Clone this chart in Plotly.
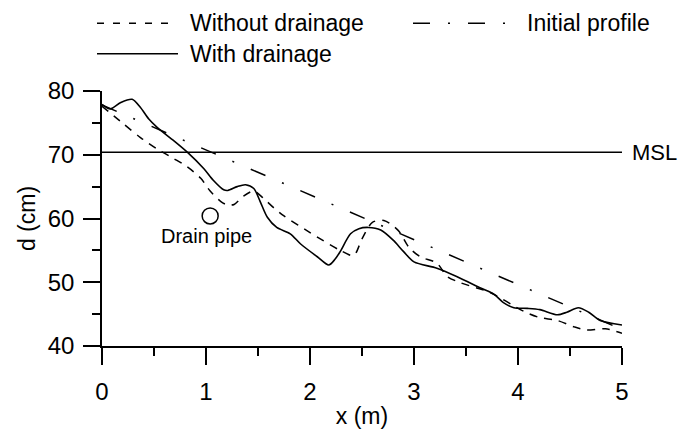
import plotly.graph_objects as go

# ---- data ----
with_x = [0.0, 0.08, 0.18, 0.29, 0.37, 0.45, 0.53, 0.69, 0.82, 0.98, 1.07, 1.17, 1.21,
          1.30, 1.38, 1.46, 1.52, 1.59, 1.68, 1.81, 1.91, 2.07, 2.18, 2.24, 2.29, 2.39,
          2.47, 2.56, 2.68, 2.80, 2.90, 3.00, 3.22, 3.41, 3.64, 3.77, 3.86, 3.96, 4.09,
          4.21, 4.38, 4.47, 4.58, 4.68, 4.79, 5.00]
with_d = [77.9, 77.2, 78.2, 78.7, 77.4, 75.6, 74.3, 72.2, 70.4, 67.8, 66.0, 64.5, 64.4,
          65.0, 65.3, 64.7, 62.7, 60.2, 58.6, 57.6, 56.0, 54.0, 52.7, 53.6, 54.8, 57.6,
          58.4, 58.6, 58.2, 56.6, 54.8, 53.2, 52.2, 50.9, 49.1, 48.1, 46.8, 46.0, 45.9,
          45.7, 44.9, 45.3, 46.0, 45.3, 44.0, 43.3]

without_x = [0.0, 0.21, 0.37, 0.53, 0.69, 0.82, 0.95, 1.04, 1.14, 1.21, 1.27, 1.36, 1.46,
             1.55, 1.65, 1.75, 2.00, 2.29, 2.42, 2.50, 2.60, 2.71, 2.85, 2.95, 3.06, 3.22,
             3.32, 3.45, 3.73, 4.06, 4.20, 4.38, 4.54, 4.66, 4.84, 5.00]
without_d = [77.6, 74.8, 72.7, 70.9, 69.4, 68.1, 66.3, 64.3, 62.7, 62.1, 62.2, 63.5, 64.3,
             63.2, 61.7, 60.4, 57.8, 55.0, 54.2, 56.8, 59.4, 59.7, 58.1, 55.5, 54.0, 53.0,
             50.9, 49.9, 48.4, 45.4, 44.5, 44.0, 43.0, 42.5, 42.7, 42.0]

initial_x = [0.0, 5.0]
initial_d = [77.8, 42.6]

msl_x = [0.0, 5.0]
msl_d = [70.4, 70.4]

pipe_x = [1.04]
pipe_d = [60.4]

x_ticks = [0, 1, 2, 3, 4, 5]
y_ticks = [40, 50, 60, 70, 80]

FONT = "Liberation Sans, Arial, sans-serif"
FS = 23

fig = go.Figure()
fig.add_trace(go.Scatter(x=initial_x, y=initial_d, mode="lines",
                         line=dict(color="black", width=1.5, dash="16px,18px,2px,18px"),
                         name="Initial profile", showlegend=False))
fig.add_trace(go.Scatter(x=msl_x, y=msl_d, mode="lines",
                         line=dict(color="black", width=1.5), name="MSL", showlegend=False))
fig.add_trace(go.Scatter(x=without_x, y=without_d, mode="lines",
                         line=dict(color="black", width=1.5, dash="8px,7px", shape="spline", smoothing=0.8),
                         name="Without drainage", showlegend=False))
fig.add_trace(go.Scatter(x=with_x, y=with_d, mode="lines",
                         line=dict(color="black", width=1.6, shape="spline", smoothing=0.8),
                         name="With drainage", showlegend=False))
fig.add_trace(go.Scatter(x=pipe_x, y=pipe_d, mode="markers",
                         marker=dict(symbol="circle-open", size=16, color="black",
                                     line=dict(width=1.5, color="black")),
                         name="Drain pipe", showlegend=False))

# ---- manual legend (paper coords) ----
def px2paper_x(px):
    return (px - 102) / 520.0

def px2paper_y(py):
    return (351 - py) / 260.0

legend_items = [
    ("Without drainage", 97, 175, 22, 188, "7px,9px"),
    ("With drainage", 97, 178, 53, 188, "solid"),
    ("Initial profile", 413, 505, 22, 525, "17px,18px,2px,18px"),
]
for label, x0, x1, yy, tx, dash in legend_items:
    fig.add_shape(type="line", xref="paper", yref="paper",
                  x0=px2paper_x(x0), x1=px2paper_x(x1), y0=px2paper_y(yy), y1=px2paper_y(yy),
                  line=dict(color="black", width=1.5, dash=dash))
    fig.add_annotation(xref="paper", yref="paper", x=px2paper_x(tx), y=px2paper_y(yy),
                       text=label, showarrow=False, xanchor="left", yanchor="middle",
                       font=dict(family=FONT, size=FS, color="black"))

fig.add_annotation(x=1.0, y=5.0, xref="paper", yref="y", text="MSL", showarrow=False,
                   xanchor="left", yanchor="middle", xshift=8,
                   font=dict(family=FONT, size=FS - 1, color="black"))
fig.add_annotation(x=1.0, y=57.2, xref="x", yref="y", text="Drain pipe", showarrow=False,
                   xanchor="center", yanchor="middle",
                   font=dict(family=FONT, size=20, color="black"))
fig.layout.annotations[-2].update(y=msl_d[0])

fig.update_layout(
    width=683, height=437, autosize=False,
    margin=dict(l=102, r=61, t=91, b=86, pad=0),
    paper_bgcolor="white", plot_bgcolor="white",
    font=dict(family=FONT, size=FS, color="black"),
    showlegend=False,
)
fig.update_xaxes(range=[0, 5], tickvals=x_ticks, showline=True, linecolor="black", linewidth=1.5,
                 ticks="outside", ticklen=17, tickwidth=1.5, tickcolor="black",
                 minor=dict(dtick=0.5, ticks="outside", ticklen=8, tickwidth=1.5, tickcolor="black"),
                 showgrid=False, zeroline=False, ticklabelstandoff=6,
                 title=dict(text="x (m)", standoff=4, font=dict(family=FONT, size=FS)),
                 tickfont=dict(family=FONT, size=FS + 1))
fig.update_yaxes(range=[40, 80], tickvals=y_ticks, showline=True, linecolor="black", linewidth=1.5,
                 ticks="outside", ticklen=17, tickwidth=1.5, tickcolor="black",
                 minor=dict(dtick=5, ticks="outside", ticklen=8, tickwidth=1.5, tickcolor="black"),
                 showgrid=False, zeroline=False, ticklabelstandoff=4,
                 title=dict(text="d (cm)", standoff=6, font=dict(family=FONT, size=FS)),
                 tickfont=dict(family=FONT, size=FS + 1))

fig.write_html("out.html")
